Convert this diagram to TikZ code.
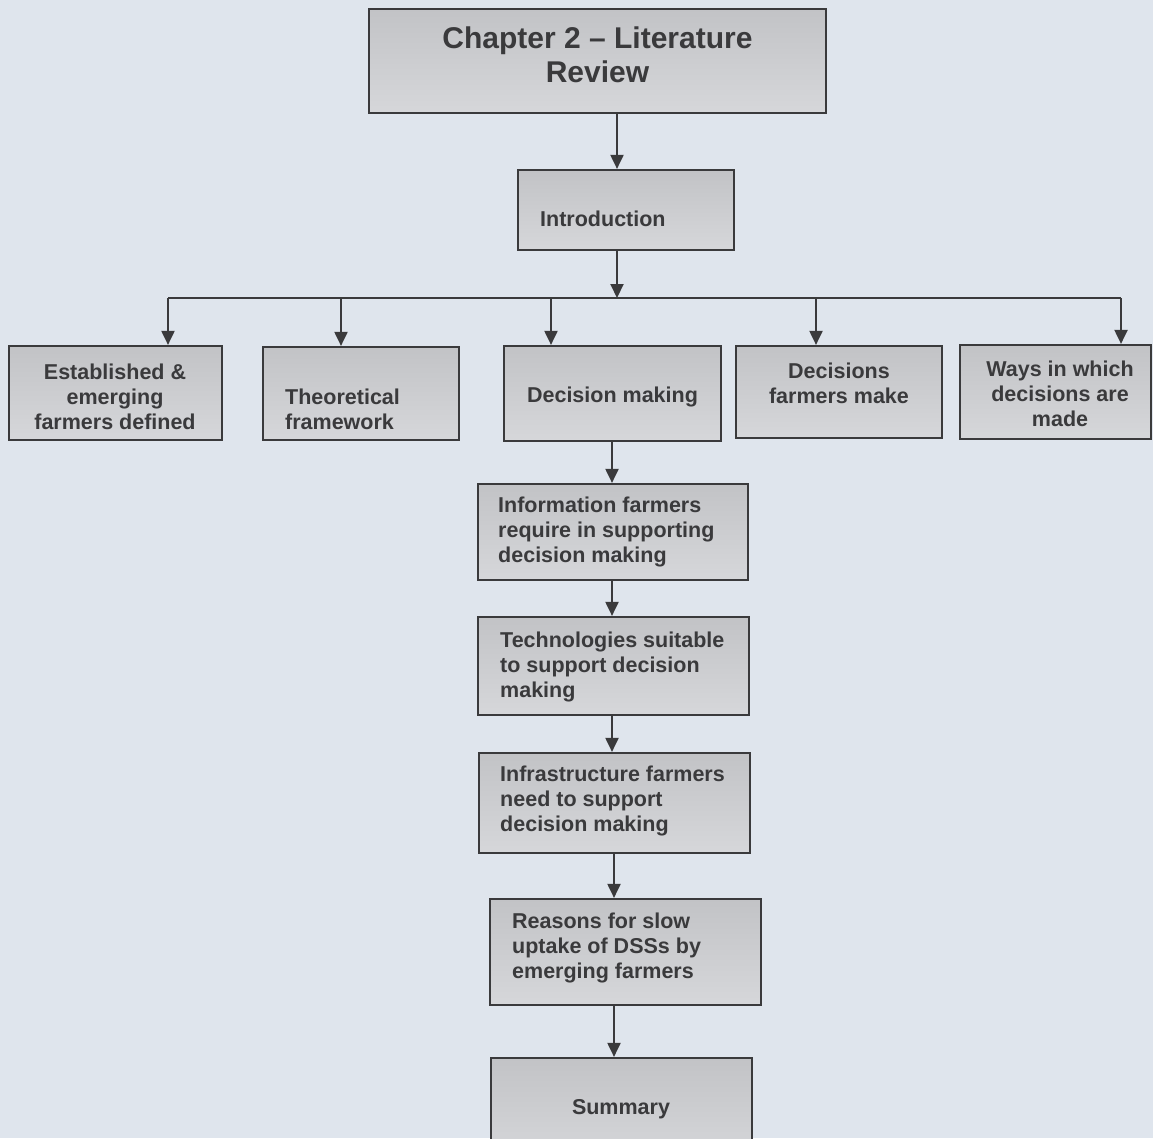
\documentclass[tikz,border=0pt]{standalone}
\usepackage{fontspec}
\setmainfont{Liberation Sans}
\usetikzlibrary{arrows.meta}
\definecolor{bg}{RGB}{223,229,237}
\definecolor{ink}{RGB}{58,58,60}
\definecolor{boxtop}{RGB}{194,195,198}
\definecolor{boxbot}{RGB}{214,215,218}

\begin{document}
\begin{tikzpicture}[x=1pt,y=-1pt,
  box/.style 2 args={draw=ink, line width=2.2pt, top color=boxtop, bottom color=boxbot,
    inner sep=0pt, minimum width=#1, minimum height=#2},
  txt/.style={font=\bfseries\fontsize{21.5}{24.8}\selectfont, text=ink, inner sep=0pt},
  ttl/.style={font=\bfseries\fontsize{30}{34}\selectfont, text=ink, inner sep=0pt, align=center},
  wire/.style={draw=ink, line width=2pt},
  arr/.style={wire, -{Triangle[width=13pt,length=14pt]}}
]
% page and background
\useasboundingbox (0,0) rectangle (1153,1138);
\clip (0,0) rectangle (1153,1138);
\fill[bg] (0,0) rectangle (1153,1138);

% boxes
\node[box={457}{104}] (title)   at (597.5,61)  {};
\node[box={216}{80}]  (intro)   at (626,210)   {};
\node[box={213}{94}]  (b1)      at (115.5,393) {};
\node[box={196}{93}]  (b2)      at (361,393.5) {};
\node[box={217}{95}]  (b3)      at (612.5,393.5) {};
\node[box={206}{92}]  (b4)      at (839,392)   {};
\node[box={191}{94}]  (b5)      at (1055.5,392) {};
\node[box={270}{96}]  (info)    at (613,532)   {};
\node[box={271}{98}]  (tech)    at (613.5,666) {};
\node[box={271}{100}] (infra)   at (614.5,803) {};
\node[box={271}{106}] (reasons) at (625.5,952) {};
\node[box={261}{102}] (summary) at (621.5,1109) {};

% texts
\node[ttl] (titletext) at (597.5,55) {Chapter 2 – Literature\\Review};
\node[txt, anchor=west] (introtext) at (540,219) {Introduction};
\node[txt, align=center] (b1text) at (115,397) {Established \&\\emerging\\farmers defined};
\node[txt, align=left, anchor=west] (b2text) at (285,409.5) {Theoretical\\framework};
\node[txt] (b3text) at (612.5,397) {Decision making};
\node[txt, align=center] (b4text) at (839,383.5) {Decisions\\farmers make};
\node[txt, align=center] (b5text) at (1060,394) {Ways in which\\decisions are\\made};
\node[txt, align=left, anchor=west] (infotext) at (498,532) {Information farmers\\require in supporting\\decision making};
\node[txt, align=left, anchor=west] (techtext) at (500,667) {Technologies suitable\\to support decision\\making};
\node[txt, align=left, anchor=west] (infratext) at (500,801) {Infrastructure farmers\\need to support\\decision making};
\node[txt, align=left, anchor=west] (reasonstext) at (512,948) {Reasons for slow\\uptake of DSSs by\\emerging farmers};
\node[txt] (summarytext) at (621,1109) {Summary};

% connector positions
\coordinate (xa) at (617,0);
\coordinate (xb) at (612,0);
\coordinate (xc) at (614,0);
\coordinate (bus) at (617,298);
\coordinate (j1) at (168,298);
\coordinate (j2) at (341,298);
\coordinate (j3) at (551,298);
\coordinate (j4) at (816,298);
\coordinate (j5) at (1121,298);

% main trunk
\draw[arr] (xa |- title.south) -- (xa |- intro.north);
\draw[arr] (xa |- intro.south) -- (bus);
\draw[wire] (j1) -- (j5);
\draw[arr] (j1) -- (j1 |- b1.north);
\draw[arr] (j2) -- (j2 |- b2.north);
\draw[arr] (j3) -- (j3 |- b3.north);
\draw[arr] (j4) -- (j4 |- b4.north);
\draw[arr] (j5) -- (j5 |- b5.north);

% decision-making chain
\draw[arr] (xb |- b3.south) -- (xb |- info.north);
\draw[arr] (xb |- info.south) -- (xb |- tech.north);
\draw[arr] (xb |- tech.south) -- (xb |- infra.north);
\draw[arr] (xc |- infra.south) -- (xc |- reasons.north);
\draw[arr] (xc |- reasons.south) -- (xc |- summary.north);
\end{tikzpicture}
\end{document}
